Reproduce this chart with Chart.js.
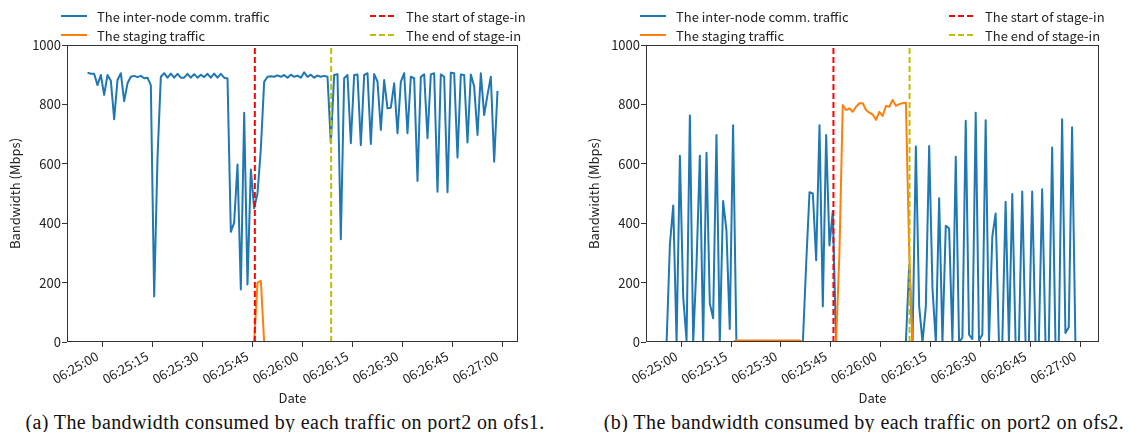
<!DOCTYPE html>
<html>
<head>
<meta charset="utf-8">
<script src="https://cdn.jsdelivr.net/npm/chart.js@4.4.1/dist/chart.umd.min.js"></script>
<style>
  html, body { margin: 0; padding: 0; background: #ffffff; }
  body { width: 1128px; height: 432px; overflow: hidden; position: relative; font-family: "Noto Sans CJK JP", "Noto Sans", sans-serif; }
  .panel { position: absolute; top: 0; width: 540px; height: 410px; }
  .panel canvas { position: absolute; left: 0; top: 0; }
  .lg-item { position: absolute; height: 18px; display: flex; align-items: center; white-space: nowrap; font-size: 13px; color: #222; }
  .lg-item svg { margin-right: 10px; flex: none; }
  .caption { position: absolute; top: 411px; width: 640px; text-align: center; white-space: nowrap;
             font-family: "Liberation Serif", "Times New Roman", serif; font-size: 20px; line-height: 23px;
             letter-spacing: 0.4px; color: #111; }
</style>
</head>
<body>
<div class="panel" id="panelA"><canvas id="chartA" width="540" height="410"></canvas></div>
<div class="panel" id="panelB"><canvas id="chartB" width="540" height="410"></canvas></div>
<div class="caption" id="capA"></div>
<div class="caption" id="capB"></div>
<script>
// ---------------- data ----------------
const tickSeconds = [0, 15, 30, 45, 60, 75, 90, 105, 120];
const tickLabels = ["06:25:00", "06:25:15", "06:25:30", "06:25:45", "06:26:00", "06:26:15", "06:26:30", "06:26:45", "06:27:00"];
const yTicks = [0, 200, 400, 600, 800, 1000];

const seriesLabels = ["The inter-node comm. traffic", "The staging traffic", "The start of stage-in", "The end of stage-in"];
const captions = ["(a) The bandwidth consumed by each traffic on port2 on ofs1.",
                  "(b) The bandwidth consumed by each traffic on port2 on ofs2."];

// samples: seconds after 06:25:00, one per second
const sampleStart = -4.4;
const sampleStep = 1;
const stageInStart = 45.8;
const stageInEnd = 68.7;

// (a) ofs1
const interNodeA = [
  907, 903, 903, 865, 899, 832, 899, 880, 750, 882,
  905, 811, 871, 893, 896, 892, 896, 888, 890, 865,
  153, 620, 893, 905, 890, 904, 890, 903, 890, 890,
  903, 890, 902, 890, 900, 892, 903, 890, 904, 890,
  903, 890, 887, 371, 402, 598, 177, 772, 194, 581,
  450, 500, 650, 876, 893, 895, 893, 898, 893, 899,
  890, 900, 893, 897, 890, 908, 893, 900, 890, 897,
  893, 896, 893, 669, 899, 902, 346, 888, 899, 669,
  899, 901, 663, 899, 905, 667, 902, 877, 714, 882,
  787, 789, 871, 703, 876, 905, 703, 893, 888, 542,
  893, 901, 686, 901, 905, 506, 901, 893, 504, 907,
  905, 621, 901, 899, 672, 901, 860, 697, 905, 764,
  832, 893, 607, 845
];
const stagingA = [
  0, 0, 0, 0, 0, 0, 0, 0, 0, 0,
  0, 0, 0, 0, 0, 0, 0, 0, 0, 0,
  0, 0, 0, 0, 0, 0, 0, 0, 0, 0,
  0, 0, 0, 0, 0, 0, 0, 0, 0, 0,
  0, 0, 0, 0, 0, 0, 0, 0, 0, 0,
  0, 200, 206, 0, 0, 0, 0, 0, 0, 0,
  0, 0, 0, 0, 0, 0, 0, 0, 0, 0,
  0, 0, 0, 0, 0, 0, 0, 0, 0, 0,
  0, 0, 0, 0, 0, 0, 0, 0, 0, 0,
  0, 0, 0, 0, 0, 0, 0, 0, 0, 0,
  0, 0, 0, 0, 0, 0, 0, 0, 0, 0,
  0, 0, 0, 0, 0, 0, 0, 0, 0, 0,
  0, 0, 0, 0
];

// (b) ofs2
const interNodeB = [
  0, 330, 460, 0, 627, 150, 5, 763, 0, 260,
  627, 0, 637, 130, 80, 697, 0, 475, 377, 44,
  730, 0, 0, 0, 0, 0, 0, 0, 0, 0,
  0, 0, 0, 0, 0, 0, 0, 0, 0, 0,
  0, 0, 265, 504, 500, 275, 730, 120, 697, 325,
  440, 0, 0, 0, 0, 0, 0, 0, 0, 0,
  0, 0, 0, 0, 0, 0, 0, 0, 0, 0,
  0, 0, 0, 260, 0, 658, 119, 0, 120, 660,
  180, 0, 484, 0, 391, 383, 0, 624, 0, 15,
  745, 25, 10, 772, 5, 25, 747, 0, 355, 433,
  0, 0, 472, 0, 498, 0, 0, 507, 0, 0,
  507, 0, 0, 514, 0, 0, 655, 0, 0, 750,
  30, 50, 723, 0
];
const stagingB = [
  0, 0, 0, 0, 0, 0, 0, 0, 0, 0,
  0, 0, 0, 0, 0, 0, 0, 0, 0, 0,
  0, 5, 5, 5, 5, 5, 5, 5, 5, 5,
  5, 5, 5, 5, 5, 5, 5, 5, 5, 5,
  5, 0, 0, 0, 0, 0, 0, 0, 0, 0,
  0, 0, 300, 798, 781, 787, 775, 792, 804, 804,
  781, 772, 766, 748, 775, 761, 795, 792, 815, 795,
  801, 804, 806, 300, 0, 0, 0, 0, 0, 0,
  0, 0, 0, 0, 0, 0, 0, 0, 0, 0,
  0, 0, 0, 0, 0, 0, 0, 0, 0, 0,
  0, 0, 0, 0, 0, 0, 0, 0, 0, 0,
  0, 0, 0, 0, 0, 0, 0, 0, 0, 0,
  0, 0, 0, 0
];

// ---------------- styling ----------------
const FONT = "'Noto Sans CJK JP', 'Noto Sans', sans-serif";
const TEXT = "#222222";
const AXIS = "#333333";
const COLORS = ["#1f77b4", "#ff7f0e", "#ff0000", "#bfbf00"];
const DASH = [6, 3];

const framePlugin = {
  id: "frame",
  afterDatasetsDraw(chart) {
    const { ctx, chartArea: a } = chart;
    ctx.save();
    ctx.strokeStyle = AXIS;
    ctx.lineWidth = 1;
    const l = Math.round(a.left) + 0.5, t = Math.round(a.top) + 0.5;
    const r = Math.round(a.right) - 0.5, b = Math.round(a.bottom) - 0.5;
    ctx.strokeRect(l, t, r - l, b - t);
    ctx.restore();
  }
};

function toPoints(vals) {
  return vals.map((v, i) => ({ x: sampleStart + i * sampleStep, y: v }));
}
function vline(x) {
  return [{ x: x, y: yTicks[0] }, { x: x, y: yTicks[yTicks.length - 1] }];
}

function makeChart(id, interNode, staging, xMin, xMax, rightPad) {
  const ctx = document.getElementById(id);
  return new Chart(ctx, {
    type: "line",
    data: {
      datasets: [
        { label: seriesLabels[0], data: toPoints(interNode), borderColor: COLORS[0], borderWidth: 2, order: 4 },
        { label: seriesLabels[1], data: toPoints(staging), borderColor: COLORS[1], borderWidth: 2, order: 3 },
        { label: seriesLabels[2], data: vline(stageInStart), borderColor: COLORS[2], borderWidth: 2, borderDash: DASH, order: 2 },
        { label: seriesLabels[3], data: vline(stageInEnd), borderColor: COLORS[3], borderWidth: 2, borderDash: DASH, order: 1 }
      ]
    },
    options: {
      responsive: false,
      animation: false,
      devicePixelRatio: 1,
      layout: { padding: { top: 45, right: rightPad, bottom: 4, left: 0 } },
      elements: {
        point: { radius: 0, hoverRadius: 0 },
        line: { tension: 0, fill: false, borderJoinStyle: "round", borderCapStyle: "butt" }
      },
      plugins: { legend: { display: false }, tooltip: { enabled: false } },
      scales: {
        x: {
          type: "linear",
          min: xMin,
          max: xMax,
          afterBuildTicks: (s) => { s.ticks = tickSeconds.map(v => ({ value: v })); },
          afterFit: (s) => { s.height = 64; s.paddingLeft = 0; s.paddingRight = 0; },
          ticks: {
            autoSkip: false,
            minRotation: 30,
            maxRotation: 30,
            padding: 1,
            labelOffset: -5,
            color: TEXT,
            font: { family: FONT, size: 13 },
            callback: (v, i) => tickLabels[i]
          },
          grid: { drawOnChartArea: false, drawTicks: true, tickLength: 5, color: AXIS, lineWidth: 1 },
          border: { display: false },
          title: { display: true, text: "Date", color: TEXT, font: { family: FONT, size: 13 }, padding: { top: 0, bottom: 0 } }
        },
        y: {
          min: yTicks[0],
          max: yTicks[yTicks.length - 1],
          afterBuildTicks: (s) => { s.ticks = yTicks.map(v => ({ value: v })); },
          afterFit: (s) => { s.width = 67; },
          ticks: { padding: 1, color: TEXT, font: { family: FONT, size: 13 }, callback: (v) => String(v) },
          grid: { drawOnChartArea: false, drawTicks: true, tickLength: 5, color: AXIS, lineWidth: 1 },
          border: { display: false },
          title: { display: true, text: "Bandwidth (Mbps)", color: TEXT, font: { family: FONT, size: 13 }, padding: { top: 7, bottom: 0 } }
        }
      }
    },
    plugins: [framePlugin]
  });
}

function buildLegend(panel) {
  const items = [
    { label: seriesLabels[0], color: COLORS[0], dash: null, left: 61, top: 7 },
    { label: seriesLabels[1], color: COLORS[1], dash: null, left: 61, top: 26 },
    { label: seriesLabels[2], color: COLORS[2], dash: DASH, left: 370, top: 7 },
    { label: seriesLabels[3], color: COLORS[3], dash: DASH, left: 370, top: 26 }
  ];
  items.forEach(it => {
    const d = document.createElement("div");
    d.className = "lg-item";
    d.style.left = it.left + "px";
    d.style.top = it.top + "px";
    const dashAttr = it.dash ? ` stroke-dasharray="${it.dash.join(",")}"` : "";
    d.innerHTML = `<svg width="26" height="6"><line x1="0" y1="3" x2="26" y2="3" stroke="${it.color}" stroke-width="2"${dashAttr}/></svg><span></span>`;
    d.querySelector("span").textContent = it.label;
    panel.appendChild(d);
  });
}

const panelA = document.getElementById("panelA");
const panelB = document.getElementById("panelB");
panelA.style.left = "0px";
panelB.style.left = "579px";
buildLegend(panelA);
buildLegend(panelB);

makeChart("chartA", interNodeA, stagingA, -10.55, 124.75, 22);
makeChart("chartB", interNodeB, stagingB, -10.6, 125.7, 20);

const capA = document.getElementById("capA");
const capB = document.getElementById("capB");
capA.textContent = captions[0];
capB.textContent = captions[1];
capA.style.left = (285 - 320) + "px";
capB.style.left = (864 - 320) + "px";
</script>
</body>
</html>
